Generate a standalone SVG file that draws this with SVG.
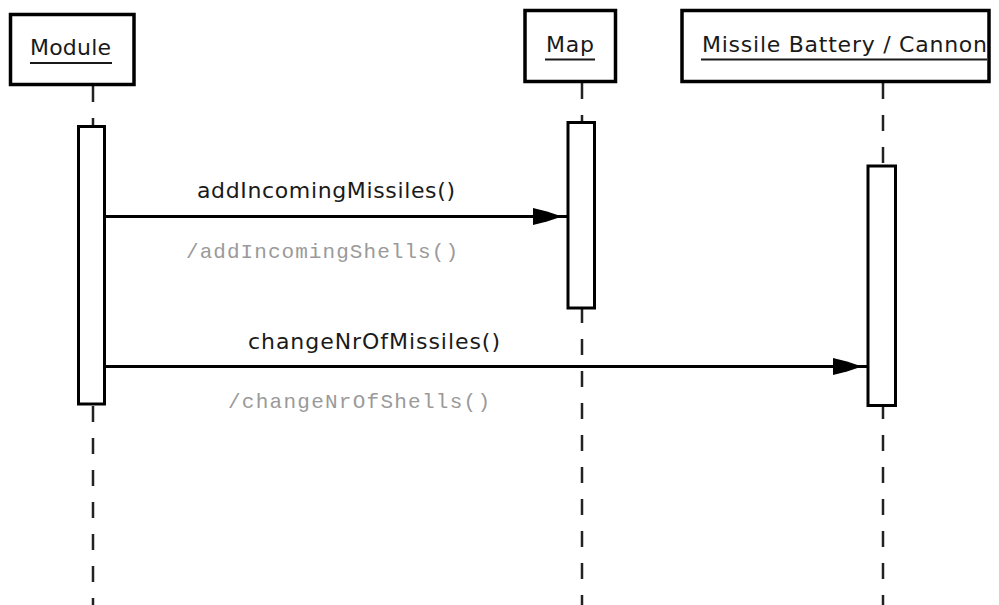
<svg xmlns="http://www.w3.org/2000/svg" width="999" height="605" viewBox="0 0 999 605">
  <style>
    .box { fill: #fff; stroke: #000; stroke-width: 3.5; }
    .act { fill: #fff; stroke: #000; stroke-width: 3; }
    .life { stroke: #222; stroke-width: 2.5; stroke-dasharray: 16 16; fill: none; }
    .title { font-family: "DejaVu Sans", "Liberation Sans", sans-serif; font-size: 22px; fill: #1a1a1a; }
    .uline { stroke: #1a1a1a; stroke-width: 2; }
    .msg { stroke: #000; stroke-width: 3; fill: none; }
    .head { fill: #000; }
    .label { font-family: "DejaVu Sans", "Liberation Sans", sans-serif; font-size: 22px; fill: #1a1a1a; }
    .alias { font-family: "Liberation Mono", "Courier New", monospace; font-size: 21px; fill: #9a9a9a; }
  </style>
  <rect width="999" height="605" fill="#fff"/>

  <!-- lifelines -->
  <g id="lifelines">
    <line class="life" x1="93" y1="86" x2="93" y2="605"/>
    <line class="life" x1="582" y1="83" x2="582" y2="605"/>
    <line class="life" x1="883" y1="83" x2="883" y2="605"/>
  </g>

  <g id="module">
    <rect class="box" x="10.5" y="14.5" width="123.5" height="70"/>
    <text class="title" x="30" y="55" textLength="81" lengthAdjust="spacing">Module</text>
    <line class="uline" x1="30" y1="63" x2="112" y2="63"/>
    <rect class="act" x="78.5" y="126.5" width="26" height="277.5"/>
  </g>

  <g id="map">
    <rect class="box" x="525" y="10.5" width="90.5" height="71"/>
    <text class="title" x="546" y="52" textLength="48" lengthAdjust="spacing">Map</text>
    <line class="uline" x1="545" y1="59.5" x2="595" y2="59.5"/>
    <rect class="act" x="568" y="122.5" width="26.5" height="185.5"/>
  </g>

  <g id="battery">
    <rect class="box" x="682" y="10.5" width="307" height="71"/>
    <text class="title" x="702" y="52" textLength="285" lengthAdjust="spacing">Missile Battery / Cannon</text>
    <line class="uline" x1="701" y1="59.5" x2="987" y2="59.5"/>
    <rect class="act" x="868" y="166" width="27.5" height="239.5"/>
  </g>

  <!-- messages -->
  <g id="connectors">
    <line class="msg" x1="106" y1="216.5" x2="567" y2="216.5"/>
    <polygon class="head" points="533,208 547,211.5 562,216.5 547,221.5 533,225"/>
    <line class="msg" x1="106" y1="366.5" x2="867" y2="366.5"/>
    <polygon class="head" points="833,358 847,361.5 862,366.5 847,371.5 833,375"/>
  </g>

  <g id="labels">
    <text class="label" x="197" y="198" textLength="258" lengthAdjust="spacing">addIncomingMissiles()</text>
    <text class="alias" x="186" y="258" textLength="272" lengthAdjust="spacing">/addIncomingShells()</text>
    <text class="label" x="248" y="349" textLength="252" lengthAdjust="spacing">changeNrOfMissiles()</text>
    <text class="alias" x="228" y="408" textLength="262" lengthAdjust="spacing">/changeNrOfShells()</text>
  </g>
</svg>
